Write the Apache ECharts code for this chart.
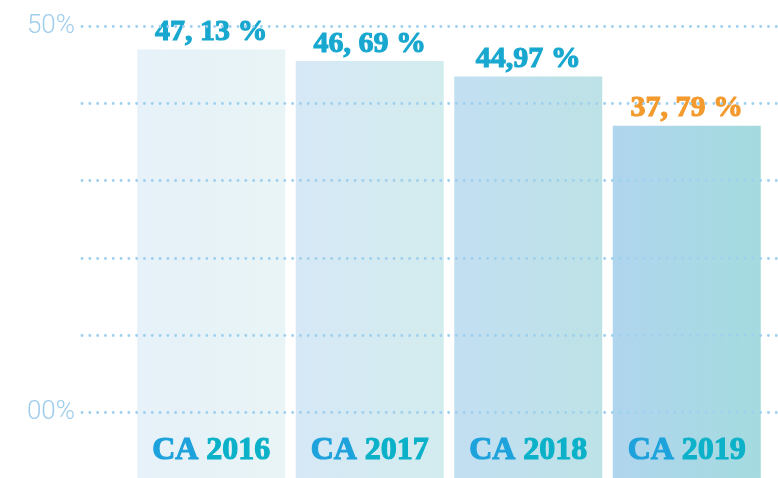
<!DOCTYPE html>
<html>
<head>
<meta charset="utf-8">
<script src="https://cdn.jsdelivr.net/npm/echarts@6/dist/echarts.min.js"></script>
<style>
  html, body { margin: 0; padding: 0; background: #fff; }
  #chart { width: 778px; height: 478px; }
</style>
</head>
<body>
<div id="chart"></div>
<script>
var chart = echarts.init(document.getElementById("chart"));

// categories and values
let categories = ["CA 2016", "CA 2017", "CA 2018", "CA 2019"];
let barValues = [47.0, 45.5, 43.5, 37.1];
let valueLabels = ["47, 13 %", "46, 69 %", "44,97 %", "37, 79 %"];
// part of the bar that runs on under the zero line
let belowZero = [-8.7, -8.7, -8.7, -8.7];
let yTickLabels = ["00%", "", "", "", "", "50%"];

let barColors = [
  ["#e6f1f9", "#e8f4f5"],
  ["#d6e8f6", "#d3ecee"],
  ["#c2dff2", "#bde2e6"],
  ["#b0d5ee", "#a4dbdf"]
];
let labelColors = ["#17a7cf", "#17a7cf", "#17a7cf", "#f39a2e"];

function grad(c) {
  return new echarts.graphic.LinearGradient(0, 0, 1, 0, [
    { offset: 0, color: c[0] },
    { offset: 1, color: c[1] }
  ]);
}

var serif = { fontFamily: "Liberation Serif", fontWeight: "bold", fontSize: 32, textBorderWidth: 1.1 };

chart.setOption({
  animation: false,
  grid: [
    { left: 82, right: 0, top: 26.5, height: 385.5 },
    { left: 132, right: 12, top: 26.5, bottom: 0 }
  ],
  xAxis: [
    { gridIndex: 0, type: "category", data: categories, show: false },
    {
      gridIndex: 1,
      type: "category",
      data: categories,
      axisLine: { show: false, onZero: false },
      axisTick: { show: false },
      z: 5,
      axisLabel: {
        margin: -27,
        verticalAlign: "middle",
        formatter: function (v) {
          return "{a|" + v.slice(0, 3) + "}{b|" + v.slice(3) + "}";
        },
        rich: {
          a: Object.assign({ color: "#1ea2dc", textBorderColor: "#1ea2dc" }, serif),
          b: Object.assign({ color: "#0bb1c8", textBorderColor: "#0bb1c8" }, serif)
        }
      }
    }
  ],
  yAxis: [
    {
      gridIndex: 0,
      type: "value",
      min: 0,
      max: 50,
      interval: 10,
      z: 10,
      axisLine: { show: false },
      axisTick: { show: false },
      axisLabel: {
        margin: 7,
        fontFamily: "Roboto",
        fontWeight: 300,
        fontSize: 26,
        color: "#9fcdec",
        formatter: function (v) { return yTickLabels[Math.round(v / 10)]; }
      },
      splitLine: {
        lineStyle: { color: "#9fd0ee", width: 2.8, type: [0.1, 7.7], cap: "round" }
      }
    },
    {
      gridIndex: 1,
      type: "value",
      min: -8.7,
      max: 50,
      show: false
    }
  ],
  series: [
    {
      type: "bar",
      xAxisIndex: 1,
      yAxisIndex: 1,
      stack: "bar",
      barWidth: 148,
      z: 2,
      data: belowZero.map(function (v, i) {
        return { value: v, itemStyle: { color: grad(barColors[i]) } };
      })
    },
    {
      type: "bar",
      xAxisIndex: 1,
      yAxisIndex: 1,
      stack: "bar",
      barWidth: 148,
      z: 2,
      data: barValues.map(function (v, i) {
        return {
          value: v,
          itemStyle: { color: grad(barColors[i]) },
          label: { color: labelColors[i], textBorderColor: labelColors[i] }
        };
      }),
      label: {
        show: true,
        position: "top",
        distance: 2,
        fontFamily: "Liberation Serif",
        fontWeight: "bold",
        fontSize: 30,
        textBorderWidth: 1.1,
        formatter: function (p) { return valueLabels[p.dataIndex]; }
      }
    }
  ]
});
</script>
</body>
</html>
